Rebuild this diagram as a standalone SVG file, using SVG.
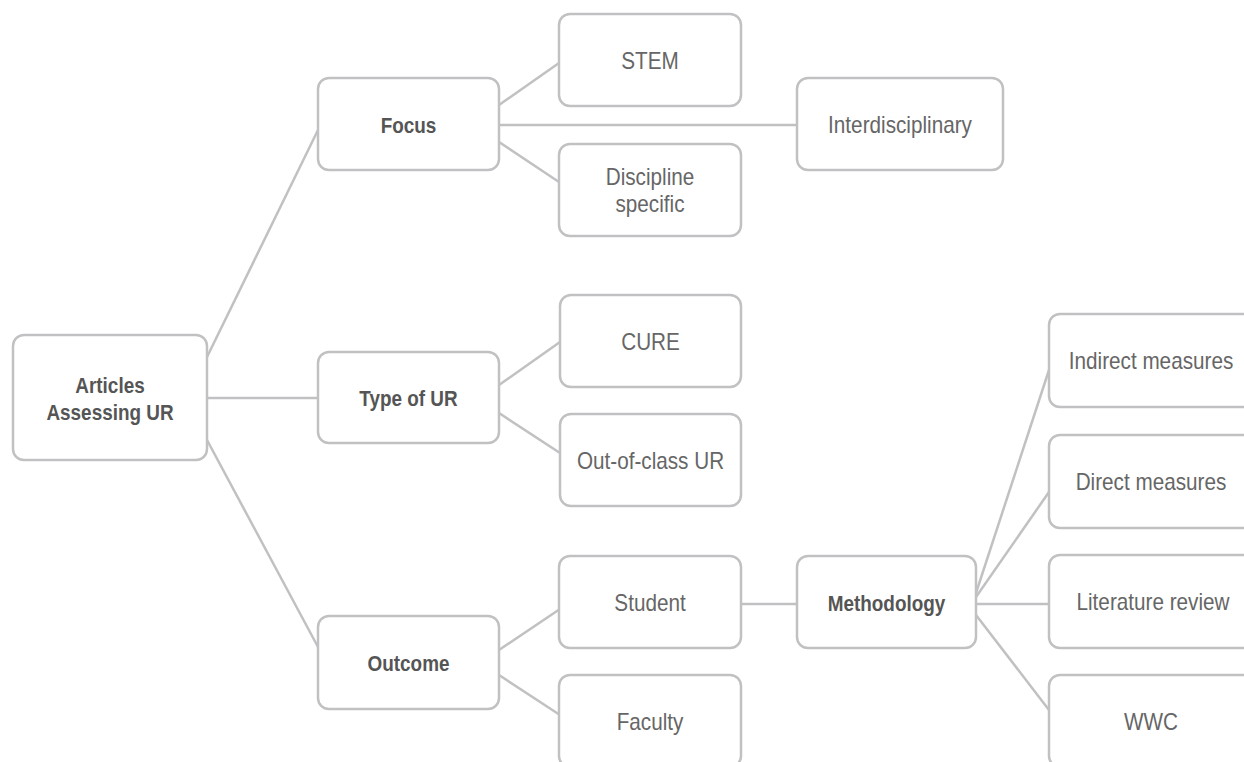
<svg xmlns="http://www.w3.org/2000/svg" width="1244" height="762" viewBox="0 0 1244 762">
<style>
.box{fill:#fff;stroke:#c1c1c3;stroke-width:2.5}
.ln{stroke:#c1c1c3;stroke-width:2.5;fill:none}
.t{font-family:"Liberation Sans",Arial,sans-serif;font-size:23px;fill:#666;text-anchor:middle}
.b{font-family:"Liberation Sans",Arial,sans-serif;font-size:22px;font-weight:bold;fill:#555;text-anchor:middle}
</style>
<rect width="1244" height="762" fill="#fff"/>
<g id="connectors">
<line class="ln" x1="207" y1="357" x2="318" y2="130"/>
<line class="ln" x1="207" y1="398" x2="318" y2="398"/>
<line class="ln" x1="207" y1="440" x2="318" y2="647"/>
<line class="ln" x1="499" y1="105" x2="559" y2="63"/>
<line class="ln" x1="499" y1="125" x2="797" y2="125"/>
<line class="ln" x1="499" y1="142" x2="559" y2="182"/>
<line class="ln" x1="499" y1="385" x2="560" y2="342"/>
<line class="ln" x1="499" y1="413" x2="560" y2="453"/>
<line class="ln" x1="499" y1="650" x2="560" y2="609"/>
<line class="ln" x1="499" y1="675" x2="560" y2="715"/>
<line class="ln" x1="741" y1="604" x2="797" y2="604"/>
<line class="ln" x1="976" y1="593" x2="1049" y2="370"/>
<line class="ln" x1="976" y1="597" x2="1049" y2="492"/>
<line class="ln" x1="976" y1="604" x2="1049" y2="604"/>
<line class="ln" x1="976" y1="615" x2="1049" y2="710"/>
</g>
<g id="n-articles"><rect class="box" x="13" y="335" width="194" height="125" rx="11"/><text class="b" transform="translate(110 393) scale(0.86 1)">Articles</text><text class="b" transform="translate(110 420) scale(0.86 1)">Assessing UR</text></g>
<g id="n-focus"><rect class="box" x="318" y="78" width="181" height="92" rx="11"/><text class="b" transform="translate(408.5 132.5) scale(0.86 1)">Focus</text></g>
<g id="n-type"><rect class="box" x="318" y="352" width="181" height="91" rx="11"/><text class="b" transform="translate(408.5 406) scale(0.86 1)">Type of UR</text></g>
<g id="n-outcome"><rect class="box" x="318" y="616" width="181" height="93" rx="11"/><text class="b" transform="translate(408.5 671) scale(0.86 1)">Outcome</text></g>
<g id="n-stem"><rect class="box" x="559" y="14" width="182" height="92" rx="11"/><text class="t" transform="translate(650 68.5) scale(0.9 1)">STEM</text></g>
<g id="n-discipline"><rect class="box" x="559" y="144" width="182" height="92" rx="11"/><text class="t" transform="translate(650 185) scale(0.9 1)">Discipline</text><text class="t" transform="translate(650 212) scale(0.9 1)">specific</text></g>
<g id="n-interdisciplinary"><rect class="box" x="797" y="78" width="206" height="92" rx="11"/><text class="t" transform="translate(900 132.5) scale(0.9 1)">Interdisciplinary</text></g>
<g id="n-cure"><rect class="box" x="560" y="295" width="181" height="92" rx="11"/><text class="t" transform="translate(650.5 349.5) scale(0.9 1)">CURE</text></g>
<g id="n-outofclass"><rect class="box" x="560" y="414" width="181" height="92" rx="11"/><text class="t" transform="translate(650.5 468.5) scale(0.9 1)">Out-of-class UR</text></g>
<g id="n-student"><rect class="box" x="559" y="556" width="182" height="92" rx="11"/><text class="t" transform="translate(650 610.5) scale(0.9 1)">Student</text></g>
<g id="n-faculty"><rect class="box" x="559" y="675" width="182" height="92" rx="11"/><text class="t" transform="translate(650 730) scale(0.9 1)">Faculty</text></g>
<g id="n-methodology"><rect class="box" x="797" y="556" width="179" height="92" rx="11"/><text class="b" transform="translate(886.5 610.5) scale(0.86 1)">Methodology</text></g>
<g id="n-indirect"><rect class="box" x="1049" y="314" width="206" height="93" rx="11"/><text class="t" transform="translate(1151 369) scale(0.9 1)">Indirect measures</text></g>
<g id="n-direct"><rect class="box" x="1049" y="435" width="206" height="93" rx="11"/><text class="t" transform="translate(1151 490) scale(0.9 1)">Direct measures</text></g>
<g id="n-literature"><rect class="box" x="1049" y="555" width="206" height="93" rx="11"/><text class="t" transform="translate(1153 610) scale(0.9 1)">Literature review</text></g>
<g id="n-wwc"><rect class="box" x="1049" y="675" width="206" height="92" rx="11"/><text class="t" transform="translate(1151 730) scale(0.9 1)">WWC</text></g>
</svg>
